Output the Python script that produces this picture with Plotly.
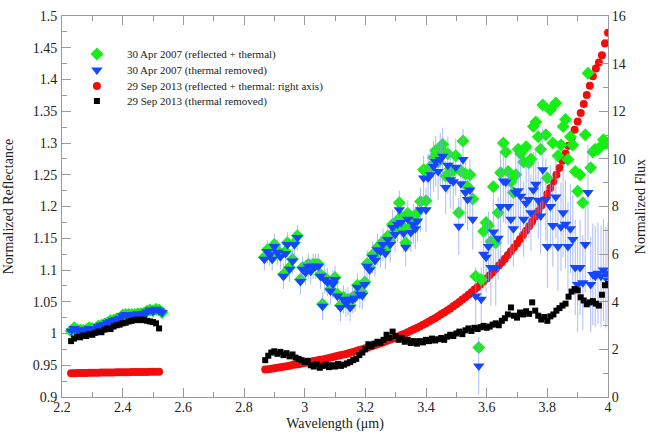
import plotly.graph_objects as go

# ---- 2013-09-29 observation (segment A: 2.23-2.52 um, segment B: 2.87-4.00 um)
wl13_a = [2.23, 2.24, 2.25, 2.26, 2.27, 2.28, 2.29, 2.30, 2.31, 2.32,
          2.33, 2.34, 2.35, 2.36, 2.37, 2.38, 2.39, 2.40, 2.41, 2.42,
          2.43, 2.44, 2.45, 2.46, 2.47, 2.48, 2.49, 2.50, 2.51, 2.52]
flux13_a = [1.00, 1.00, 1.01, 1.01, 1.01, 1.01, 1.02, 1.02, 1.02, 1.02,
            1.03, 1.03, 1.03, 1.03, 1.03, 1.04, 1.04, 1.04, 1.04, 1.04,
            1.05, 1.05, 1.05, 1.05, 1.05, 1.05, 1.06, 1.06, 1.06, 1.06]
refl13_a = [0.988, 0.992, 0.995, 0.994, 0.997, 0.996, 0.999, 0.998, 1.001, 1.003,
            1.002, 1.006, 1.008, 1.007, 1.011, 1.013, 1.014, 1.016, 1.017, 1.019,
            1.020, 1.021, 1.022, 1.021, 1.022, 1.020, 1.019, 1.018, 1.016, 1.008]

wl13_b = [2.87, 2.88, 2.89, 2.90, 2.91, 2.92, 2.93, 2.94, 2.95, 2.96,
          2.97, 2.98, 2.99, 3.00, 3.01, 3.02, 3.03, 3.04, 3.05, 3.06,
          3.07, 3.08, 3.09, 3.10, 3.11, 3.12, 3.13, 3.14, 3.15, 3.16,
          3.17, 3.18, 3.19, 3.20, 3.21, 3.22, 3.23, 3.24, 3.25, 3.26,
          3.27, 3.28, 3.29, 3.30, 3.31, 3.32, 3.33, 3.34, 3.35, 3.36,
          3.37, 3.38, 3.39, 3.40, 3.41, 3.42, 3.43, 3.44, 3.45, 3.46,
          3.47, 3.48, 3.49, 3.50, 3.51, 3.52, 3.53, 3.54, 3.55, 3.56,
          3.57, 3.58, 3.59, 3.60, 3.61, 3.62, 3.63, 3.64, 3.65, 3.66,
          3.67, 3.68, 3.69, 3.70, 3.71, 3.72, 3.73, 3.74, 3.75, 3.76,
          3.77, 3.78, 3.79, 3.80, 3.81, 3.82, 3.83, 3.84, 3.85, 3.86,
          3.87, 3.88, 3.89, 3.90, 3.91, 3.92, 3.93, 3.94, 3.95, 3.96,
          3.97, 3.98, 3.99, 4.00]
flux13_b = [1.15, 1.17, 1.19, 1.21, 1.23, 1.25, 1.27, 1.29, 1.31, 1.34,
            1.36, 1.38, 1.41, 1.43, 1.46, 1.48, 1.51, 1.53, 1.56, 1.58,
            1.61, 1.64, 1.67, 1.70, 1.73, 1.76, 1.79, 1.82, 1.86, 1.89,
            1.93, 1.97, 2.01, 2.05, 2.09, 2.13, 2.17, 2.21, 2.26, 2.30,
            2.35, 2.40, 2.45, 2.50, 2.55, 2.61, 2.66, 2.72, 2.78, 2.84,
            2.90, 2.96, 3.03, 3.10, 3.17, 3.24, 3.31, 3.39, 3.47, 3.55,
            3.63, 3.72, 3.81, 3.90, 3.99, 4.09, 4.19, 4.29, 4.40, 4.51,
            4.62, 4.74, 4.86, 4.98, 5.11, 5.24, 5.38, 5.52, 5.66, 5.81,
            5.96, 6.12, 6.28, 6.45, 6.62, 6.80, 6.98, 7.17, 7.37, 7.58,
            7.80, 8.03, 8.27, 8.52, 8.78, 9.05, 9.33, 9.62, 9.92, 10.23,
            10.55, 10.88, 11.22, 11.57, 11.93, 12.30, 12.68, 13.07, 13.47, 13.80,
            14.05, 14.35, 14.85, 15.30]
refl13_b = [0.958, 0.965, 0.970, 0.972, 0.968, 0.971, 0.966, 0.969, 0.964, 0.967,
            0.962, 0.960, 0.958, 0.955, 0.957, 0.950, 0.948, 0.952, 0.946, 0.949,
            0.951, 0.947, 0.950, 0.948, 0.952, 0.949, 0.951, 0.953, 0.955, 0.958,
            0.960, 0.966, 0.970, 0.975, 0.983, 0.980, 0.984, 0.987, 0.985, 0.990,
            0.998, 0.993, 1.003, 0.996, 0.990, 0.993, 0.987, 0.990, 0.985, 0.988,
            0.984, 0.988, 0.986, 0.990, 0.988, 0.992, 0.989, 0.991, 0.993, 0.990,
            0.995, 0.998, 0.996, 1.000, 1.003, 0.999, 1.005, 1.008, 1.004, 1.009,
            1.007, 1.010, 1.012, 1.009, 1.011, 1.014, 1.016, 1.013, 1.020, 1.024,
            1.030, 1.041, 1.028, 1.025, 1.033, 1.030, 1.035, 1.031, 1.049, 1.036,
            1.028, 1.022, 1.026, 1.020, 1.027, 1.030, 1.036, 1.040, 1.044, 1.047,
            1.058, 1.066, 1.070, 1.068, 1.057, 1.052, 1.046, 1.049, 1.051, 1.047,
            1.044, 1.061, 1.076, 1.078]

# ---- 2007-04-30 observation
wl07_a = [2.23, 2.24, 2.25, 2.26, 2.27, 2.28, 2.29, 2.30, 2.31, 2.32,
          2.33, 2.34, 2.35, 2.36, 2.37, 2.38, 2.39, 2.40, 2.41, 2.42,
          2.43, 2.44, 2.45, 2.46, 2.47, 2.48, 2.49, 2.50, 2.51, 2.52, 2.53]
blue07_a = [1.004, 1.008, 1.006, 1.005, 1.004, 1.006, 1.008, 1.008, 1.007, 1.011,
            1.013, 1.014, 1.017, 1.019, 1.021, 1.022, 1.024, 1.028, 1.030, 1.029,
            1.030, 1.029, 1.031, 1.030, 1.032, 1.034, 1.037, 1.035, 1.038, 1.036, 1.033]
green07_a = [1.004, 1.009, 1.006, 1.005, 1.005, 1.006, 1.009, 1.008, 1.007, 1.012,
             1.013, 1.015, 1.017, 1.020, 1.021, 1.023, 1.024, 1.029, 1.030, 1.030,
             1.030, 1.030, 1.031, 1.031, 1.032, 1.035, 1.037, 1.036, 1.038, 1.037, 1.033]
err07_a = [0.004] * 31

wl07_b = [2.867, 2.877, 2.885, 2.893, 2.900, 2.910, 2.920, 2.930, 2.937, 2.943,
          2.950, 2.960, 2.966, 2.976, 2.986, 2.993, 3.003, 3.012, 3.020, 3.028,
          3.036, 3.045, 3.052, 3.059, 3.066, 3.075, 3.085, 3.093, 3.100, 3.108,
          3.118, 3.128, 3.136, 3.143, 3.150, 3.158, 3.166, 3.174, 3.182, 3.190,
          3.198, 3.206, 3.214, 3.224, 3.232, 3.240, 3.250, 3.258, 3.266, 3.274,
          3.282, 3.290, 3.298, 3.306, 3.312, 3.318, 3.326, 3.333, 3.340, 3.350,
          3.358, 3.365, 3.372, 3.382, 3.392, 3.400, 3.407, 3.415, 3.425, 3.432,
          3.440, 3.447, 3.455, 3.465, 3.472, 3.480, 3.490, 3.498, 3.508, 3.515,
          3.522, 3.530, 3.537, 3.545, 3.554, 3.564, 3.574, 3.582, 3.590, 3.598,
          3.606, 3.614, 3.622, 3.630, 3.638, 3.646, 3.655, 3.663, 3.671, 3.680,
          3.688, 3.696, 3.704, 3.712, 3.722, 3.730, 3.739, 3.746, 3.754, 3.762,
          3.770, 3.778, 3.785, 3.795, 3.800, 3.810, 3.818, 3.828, 3.835, 3.845,
          3.852, 3.860, 3.868, 3.876, 3.884, 3.892, 3.900, 3.908, 3.917, 3.925,
          3.934, 3.943, 3.950, 3.958, 3.967, 3.977, 3.985, 3.993, 4.000]
blue07_b = [1.117, 1.129, 1.124, 1.117, 1.137, 1.128, 1.121, 1.090, 1.126, 1.140,
            1.101, 1.114, 1.140, 1.151, 1.082, 1.101, 1.096, 1.106, 1.098, 1.106,
            1.106, 1.106, 1.090, 1.043, 1.085, 1.081, 1.067, 1.078, 1.085, 1.059,
            1.041, 1.054, 1.048, 1.051, 1.041, 1.054, 1.056, 1.073, 1.062, 1.060,
            1.077, 1.106, 1.100, 1.120, 1.115, 1.132, 1.129, 1.140, 1.126, 1.148,
            1.140, 1.167, 1.156, 1.172, 1.195, 1.175, 1.158, 1.136, 1.180, 1.159,
            1.172, 1.165, 1.177, 1.195, 1.245, 1.195, 1.245, 1.250, 1.263, 1.271,
            1.255, 1.274, 1.279, 1.230, 1.265, 1.242, 1.239, 1.262, 1.169, 1.236,
            1.274, 1.222, 1.211, 1.226, 1.180, 1.059, 0.949, 1.054, 1.125, 1.120,
            1.137, 1.104, 1.160, 1.104, 1.150, 1.200, 1.240, 1.238, 1.200, 1.180,
            1.165, 1.222, 1.225, 1.216, 1.180, 1.205, 1.211, 1.190, 1.226, 1.235,
            1.210, 1.185, 1.258, 1.211, 1.137, 1.200, 1.170, 1.215, 1.137, 1.168,
            1.190, 1.172, 1.137, 1.165, 1.148, 1.104, 1.077, 1.104, 1.080, 1.140,
            1.222, 1.077, 1.093, 1.090, 1.095, 1.090, 1.100, 1.088, 1.095]
green07_b = [1.120, 1.132, 1.127, 1.120, 1.140, 1.131, 1.124, 1.093, 1.129, 1.143,
             1.104, 1.117, 1.143, 1.154, 1.085, 1.104, 1.099, 1.109, 1.101, 1.109,
             1.109, 1.109, 1.093, 1.046, 1.088, 1.084, 1.070, 1.081, 1.088, 1.062,
             1.044, 1.057, 1.051, 1.054, 1.044, 1.057, 1.059, 1.076, 1.065, 1.064,
             1.081, 1.110, 1.104, 1.124, 1.119, 1.136, 1.133, 1.145, 1.131, 1.153,
             1.145, 1.172, 1.161, 1.178, 1.206, 1.184, 1.167, 1.143, 1.189, 1.169,
             1.183, 1.177, 1.190, 1.208, 1.258, 1.209, 1.257, 1.263, 1.277, 1.288,
             1.270, 1.291, 1.298, 1.248, 1.283, 1.260, 1.256, 1.280, 1.190, 1.256,
             1.303, 1.251, 1.231, 1.250, 1.212, 1.090, 0.978, 1.085, 1.161, 1.175,
             1.170, 1.145, 1.231, 1.143, 1.190, 1.253, 1.300, 1.286, 1.255, 1.239,
             1.222, 1.250, 1.290, 1.283, 1.270, 1.294, 1.269, 1.275, 1.326, 1.333,
             1.310, 1.290, 1.360, 1.313, 1.245, 1.352, 1.300, 1.363, 1.280, 1.297,
             1.326, 1.337, 1.274, 1.310, 1.297, 1.255, 1.224, 1.250, 1.206, 1.313,
             1.410, 1.261, 1.286, 1.290, 1.290, 1.295, 1.305, 1.300, 1.300]
err07_b = [0.018, 0.018, 0.018, 0.018, 0.020, 0.020, 0.020, 0.020, 0.020, 0.020,
           0.020, 0.020, 0.020, 0.020, 0.020, 0.020, 0.020, 0.020, 0.020, 0.020,
           0.020, 0.020, 0.020, 0.022, 0.022, 0.022, 0.022, 0.022, 0.022, 0.022,
           0.022, 0.022, 0.022, 0.022, 0.022, 0.022, 0.022, 0.022, 0.022, 0.022,
           0.025, 0.025, 0.025, 0.025, 0.025, 0.025, 0.025, 0.025, 0.025, 0.025,
           0.028, 0.028, 0.028, 0.028, 0.030, 0.030, 0.030, 0.030, 0.030, 0.030,
           0.032, 0.032, 0.032, 0.035, 0.035, 0.035, 0.038, 0.038, 0.040, 0.040,
           0.045, 0.042, 0.045, 0.042, 0.045, 0.045, 0.045, 0.045, 0.045, 0.045,
           0.048, 0.048, 0.048, 0.048, 0.048, 0.045, 0.045, 0.050, 0.055, 0.055,
           0.055, 0.060, 0.060, 0.060, 0.065, 0.085, 0.065, 0.065, 0.060, 0.060,
           0.060, 0.060, 0.060, 0.060, 0.060, 0.060, 0.060, 0.060, 0.060, 0.055,
           0.060, 0.060, 0.065, 0.065, 0.065, 0.065, 0.065, 0.065, 0.070, 0.070,
           0.070, 0.070, 0.070, 0.070, 0.070, 0.075, 0.075, 0.075, 0.075, 0.075,
           0.075, 0.075, 0.080, 0.080, 0.080, 0.080, 0.080, 0.080, 0.080]

labels = ["30 Apr 2007 (reflected + thermal)",
          "30 Apr 2007 (thermal removed)",
          "29 Sep 2013 (reflected + thermal: right axis)",
          "29 Sep 2013 (thermal removed)"]

FONT = "Liberation Serif"
AXIS_GREY = "#9a9a9a"
TEXT = "#222222"

fig = go.Figure()

# flux (right-hand scale) drawn first so reflectance points sit on top of it
fig.add_trace(go.Scatter(
    x=wl13_a + wl13_b, y=flux13_a + flux13_b, mode="markers", name=labels[2],
    marker=dict(symbol="circle", size=8, color="#f20c0c", line=dict(width=0)),
    yaxis="y", legend="legend3", showlegend=True))

fig.add_trace(go.Scatter(
    x=wl07_a + wl07_b, y=green07_a + green07_b, mode="markers", name=labels[0],
    marker=dict(symbol="diamond", size=10, color="#16ee16", line=dict(width=0)),
    yaxis="y2", legend="legend", showlegend=True))

fig.add_trace(go.Scatter(
    x=wl07_a + wl07_b, y=blue07_a + blue07_b, mode="markers", name=labels[1],
    marker=dict(symbol="triangle-down", size=10, color="#1447ff", line=dict(width=0)),
    error_y=dict(type="data", array=err07_a + err07_b, visible=True,
                 color="rgba(135,160,245,0.7)", thickness=1, width=0),
    yaxis="y2", legend="legend2", showlegend=True))

fig.add_trace(go.Scatter(
    x=wl13_a + wl13_b, y=refl13_a + refl13_b, mode="markers", name=labels[3],
    marker=dict(symbol="square", size=6, color="#000000", line=dict(width=0)),
    yaxis="y2", legend="legend4", showlegend=True))

tick_common = dict(ticks="inside", ticklen=9, tickcolor=AXIS_GREY, tickwidth=1,
                   showline=True, linecolor=AXIS_GREY, linewidth=1,
                   showgrid=False, zeroline=False, automargin=False,
                   tickfont=dict(family=FONT, size=14, color=TEXT))

legend_common = dict(x=0.009, xanchor="left", yanchor="middle", itemwidth=50,
                     bgcolor="rgba(0,0,0,0)", borderwidth=0,
                     font=dict(family=FONT, size=11, color=TEXT))

fig.update_layout(
    width=648, height=436,
    margin=dict(l=62, r=40, t=16, b=39),
    paper_bgcolor="white", plot_bgcolor="white",
    font=dict(family=FONT, color=TEXT),
    showlegend=True,
    xaxis=dict(range=[2.2, 4.0], tick0=2.2, dtick=0.2, mirror="ticks",
               ticklabelstandoff=-3,
               minor=dict(dtick=0.1, ticklen=5, ticks="inside", tickcolor=AXIS_GREY),
               title=dict(text="Wavelength (μm)", font=dict(family=FONT, size=14, color=TEXT),
                          standoff=4),
               **tick_common),
    yaxis=dict(range=[0, 16], dtick=2, side="right",
               minor=dict(dtick=1, ticklen=5, ticks="inside", tickcolor=AXIS_GREY),
               title=dict(text="Normalized Flux", font=dict(family=FONT, size=14, color=TEXT)),
               **tick_common),
    yaxis2=dict(range=[0.9, 1.5], dtick=0.05, side="left", overlaying="y",
                ticklabelstandoff=1,
                minor=dict(dtick=0.025, ticklen=5, ticks="inside", tickcolor=AXIS_GREY),
                title=dict(text="Normalized Reflectance", font=dict(family=FONT, size=14, color=TEXT)),
                **tick_common),
    legend=dict(y=0.900, **legend_common),
    legend2=dict(y=0.858, **legend_common),
    legend3=dict(y=0.816, **legend_common),
    legend4=dict(y=0.777, **legend_common),
)

fig.write_html("out.html")
